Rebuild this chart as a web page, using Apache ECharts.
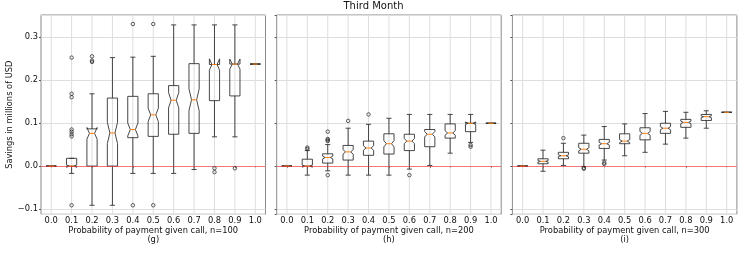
<!DOCTYPE html>
<html>
<head>
<meta charset="utf-8">
<script src="https://cdn.jsdelivr.net/npm/echarts@6/dist/echarts.min.js"></script>
<style>html,body{margin:0;padding:0;background:#fff}#c{width:747px;height:254px}</style>
</head>
<body>
<div id="c"></div>
<script>
const categories = ['0.0','0.1','0.2','0.3','0.4','0.5','0.6','0.7','0.8','0.9','1.0'];
const yTicks = [-0.1, 0.0, 0.1, 0.2, 0.3];
const title = 'Third Month';
const yName = 'Savings in millions of USD';
const panelLabels = ['Probability of payment given call, n=100\n(g)','Probability of payment given call, n=200\n(h)','Probability of payment given call, n=300\n(i)'];

// n = 100
const n100Low  = [0, -0.017, -0.091, -0.091, -0.017, -0.017, -0.017, -0.008, 0.068, 0.068, 0.237];
const n100Q1   = [0, 0, 0, 0, 0.066, 0.069, 0.074, 0.076, 0.152, 0.163, 0.237];
const n100Med  = [0, 0, 0.076, 0.077, 0.085, 0.119, 0.153, 0.154, 0.236, 0.237, 0.237];
const n100Q3   = [0, 0.018, 0.0865, 0.158, 0.162, 0.168, 0.187, 0.238, 0.236, 0.237, 0.237];
const n100High = [0, 0.018, 0.168, 0.252, 0.253, 0.255, 0.328, 0.328, 0.328, 0.328, 0.237];
const n100Fliers = [[1,0.252],[1,0.168],[1,0.160],[1,0.085],[1,0.080],[1,0.074],[1,0.069],[1,-0.091],
  [2,0.255],[2,0.245],[2,0.242],[4,0.330],[4,-0.091],[5,0.330],[5,-0.091],[8,-0.005],[8,-0.014],[9,-0.005]];

// n = 200
const n200Low  = [0, -0.021, -0.011, -0.021, -0.021, -0.021, -0.007, 0.0015, 0.030, 0.055, 0.0995];
const n200Q1   = [0, 0, 0.007, 0.014, 0.025, 0.028, 0.036, 0.045, 0.065, 0.080, 0.0995];
const n200Med  = [0, 0, 0.020, 0.033, 0.042, 0.052, 0.058, 0.074, 0.077, 0.0995, 0.0995];
const n200Q3   = [0, 0.016, 0.0285, 0.048, 0.058, 0.075, 0.074, 0.085, 0.098, 0.0995, 0.0995];
const n200High = [0, 0.036, 0.050, 0.088, 0.097, 0.111, 0.120, 0.120, 0.120, 0.120, 0.0995];
const n200Fliers = [[1,0.040],[1,0.043],[2,0.058],[2,0.061],[2,0.063],[2,0.080],[2,-0.021],
  [3,0.105],[4,0.120],[6,-0.021],[9,0.049],[9,0.045]];

// n = 300
const n300Low  = [0, -0.012, 0.0015, -0.001, 0.014, 0.024, 0.032, 0.051, 0.065, 0.088, 0.125];
const n300Q1   = [0, 0.0054, 0.017, 0.030, 0.041, 0.052, 0.061, 0.076, 0.090, 0.106, 0.125];
const n300Med  = [0, 0.011, 0.024, 0.039, 0.052, 0.058, 0.076, 0.088, 0.1015, 0.1147, 0.125];
const n300Q3   = [0, 0.017, 0.032, 0.053, 0.062, 0.075, 0.089, 0.0995, 0.1085, 0.120, 0.125];
const n300High = [0, 0.037, 0.053, 0.072, 0.092, 0.098, 0.122, 0.127, 0.125, 0.1285, 0.125];
const n300Fliers = [[2,0.065],[3,-0.004],[3,-0.006],[4,0.008],[4,0.005]];

const sampleRuns = 100; // notch half-height = 1.57 * IQR / sqrt(runs)

const panels = [
  {low:n100Low, q1:n100Q1, med:n100Med, q3:n100Q3, high:n100High, fliers:n100Fliers},
  {low:n200Low, q1:n200Q1, med:n200Med, q3:n200Q3, high:n200High, fliers:n200Fliers},
  {low:n300Low, q1:n300Q1, med:n300Med, q3:n300Q3, high:n300High, fliers:n300Fliers}
];

const Y_MIN = -0.112, Y_MAX = 0.351;
const lefts = [41, 276.7, 512.4];
const W = 224.5, TOP = 15, H = 199.3;
const FONT = 'DejaVu Sans';
const BOX = '#333', MED = '#ff7f0e';

function fmt(v){ const s = Math.abs(v).toFixed(1); return (v < -1e-9 ? '\u2212' : '') + s; }

const grids = [], xAxes = [], yAxes = [], series = [];
panels.forEach((p, k) => {
  grids.push({left: lefts[k], top: TOP, width: W, height: H, show: true, borderColor: '#8a8a8a', borderWidth: 1, backgroundColor: 'transparent'});
  xAxes.push({
    type: 'category', gridIndex: k, data: categories, boundaryGap: true,
    axisLine: {show: false},
    axisTick: {show: true, alignWithLabel: true, length: 2, lineStyle: {color: '#555'}},
    axisLabel: {fontFamily: FONT, fontSize: 8.3, color: '#111', margin: 3},
    splitLine: {show: false},
    name: panelLabels[k], nameLocation: 'middle', nameGap: 12.5, nameMoveOverlap: false,
    nameTextStyle: {fontFamily: FONT, fontSize: 8.3, color: '#111', lineHeight: 8.8}
  });
  yAxes.push({
    type: 'value', gridIndex: k, min: Y_MIN, max: Y_MAX, splitNumber: 5,
    axisLine: {show: false},
    axisTick: {show: true, length: 2, lineStyle: {color: '#555'}},
    axisLabel: {show: k === 0, fontFamily: FONT, fontSize: 8.3, color: '#111', margin: 3,
      showMinLabel: false, showMaxLabel: false, formatter: fmt},
    splitLine: {show: true, lineStyle: {color: '#dedede', width: 1}},
    name: k === 0 ? yName : '', nameLocation: 'middle', nameGap: 21,
    nameTextStyle: {fontFamily: FONT, fontSize: 8.3, color: '#111'}
  });
  // vertical grid lines at category centres
  series.push({
    type: 'custom', xAxisIndex: k, yAxisIndex: k, silent: true, z: 1,
    data: categories.map((c, i) => [i]),
    encode: {x: 0},
    renderItem: function(params, api){
      const i = api.value(0);
      const a = api.coord([i, Y_MAX]), b = api.coord([i, Y_MIN]);
      return {type: 'line', shape: {x1: a[0], y1: a[1], x2: b[0], y2: b[1]}, style: {stroke: '#dedede', lineWidth: 1}};
    }
  });
  // notched boxes
  series.push({
    type: 'custom', xAxisIndex: k, yAxisIndex: k, silent: true, z: 3,
    data: categories.map((c, i) => [i, p.low[i], p.q1[i], p.med[i], p.q3[i], p.high[i]]),
    encode: {x: 0, y: [1, 2, 3, 4, 5]},
    renderItem: function(params, api){
      const i = api.value(0);
      const lo = api.value(1), q1 = api.value(2), md = api.value(3), q3 = api.value(4), hi = api.value(5);
      const band = api.size([1, 0])[0];
      const cx = api.coord([i, md])[0];
      const y = v => api.coord([i, v])[1];
      const hw = band * 0.25, nw = band * 0.125, cw = band * 0.125;
      const h = 1.57 * (q3 - q1) / Math.sqrt(sampleRuns);
      const nlo = md - h, nhi = md + h;
      const pts = [[cx-hw,y(q1)],[cx+hw,y(q1)],[cx+hw,y(nlo)],[cx+nw,y(md)],[cx+hw,y(nhi)],[cx+hw,y(q3)],
                   [cx-hw,y(q3)],[cx-hw,y(nhi)],[cx-nw,y(md)],[cx-hw,y(nlo)]];
      const ls = {stroke: BOX, lineWidth: 0.9, fill: null};
      return {type: 'group', children: [
        {type: 'line', shape: {x1: cx, y1: y(q1), x2: cx, y2: y(lo)}, style: ls},
        {type: 'line', shape: {x1: cx, y1: y(q3), x2: cx, y2: y(hi)}, style: ls},
        {type: 'line', shape: {x1: cx-cw, y1: y(lo), x2: cx+cw, y2: y(lo)}, style: ls},
        {type: 'line', shape: {x1: cx-cw, y1: y(hi), x2: cx+cw, y2: y(hi)}, style: ls},
        {type: 'polygon', shape: {points: pts}, style: {stroke: BOX, lineWidth: 0.9, fill: null}},
        {type: 'line', shape: {x1: cx-nw, y1: y(md), x2: cx+nw, y2: y(md)}, style: {stroke: MED, lineWidth: 1}}
      ]};
    },
    markLine: {
      silent: true, symbol: 'none', label: {show: false}, z: 4,
      lineStyle: {color: '#ff3030', width: 0.8, type: 'solid', opacity: 0.75},
      data: [{yAxis: 0}]
    }
  });
  series.push({
    type: 'scatter', xAxisIndex: k, yAxisIndex: k, silent: true, z: 4,
    data: p.fliers, symbol: 'circle', symbolSize: 3.5,
    itemStyle: {color: 'rgba(0,0,0,0)', borderColor: '#222', borderWidth: 0.9}
  });
});

const chart = echarts.init(document.getElementById('c'), null, {renderer: 'canvas'});
chart.setOption({
  animation: false,
  backgroundColor: '#fff',
  title: {text: title, left: 'center', top: -4, textStyle: {fontFamily: FONT, fontSize: 10, fontWeight: 'normal', color: '#111'}},
  grid: grids, xAxis: xAxes, yAxis: yAxes, series: series
});
</script>
</body>
</html>
